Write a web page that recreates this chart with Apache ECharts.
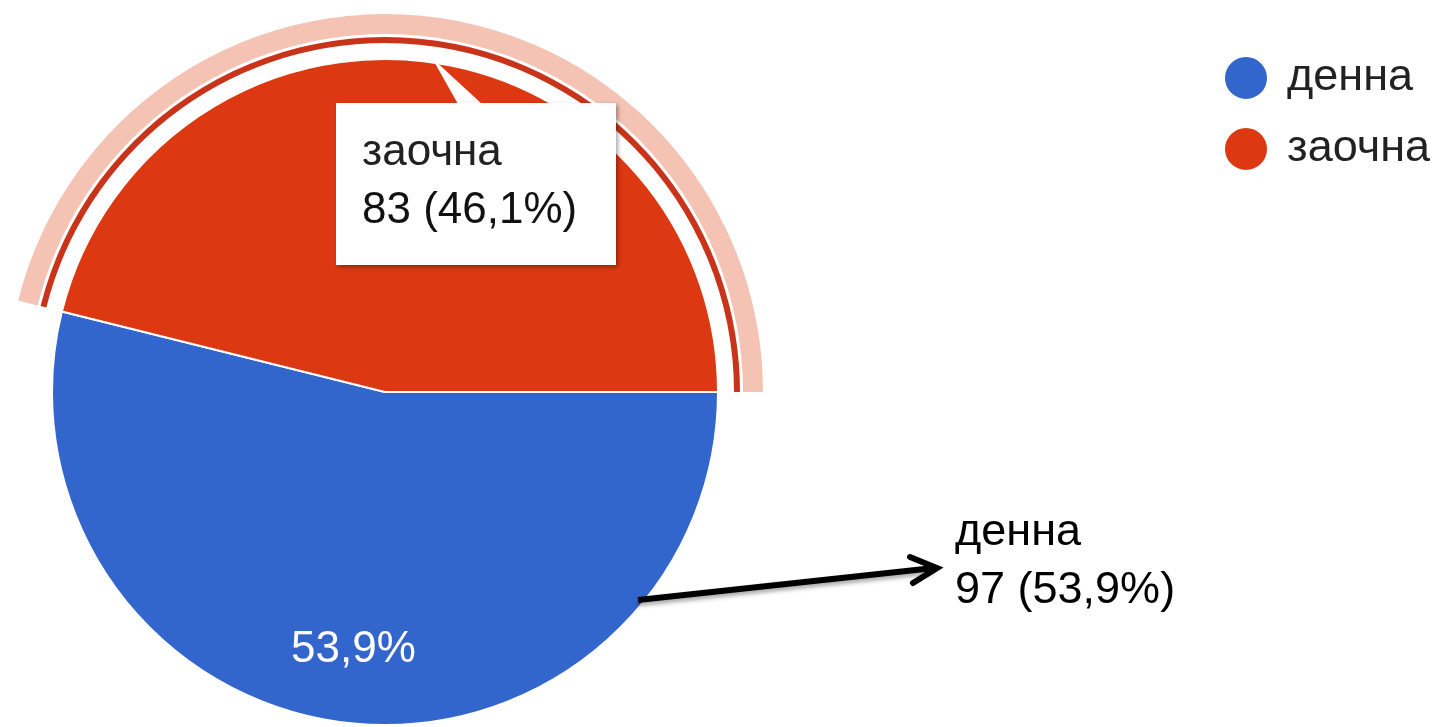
<!DOCTYPE html>
<html>
<head>
<meta charset="utf-8">
<script src="https://cdn.jsdelivr.net/npm/echarts@6/dist/echarts.min.js"></script>
<style>
html,body{margin:0;padding:0;background:#fff;}
#chart{width:1435px;height:727px;}
</style>
</head>
<body>
<div id="chart"></div>
<script>
var categories = ['денна', 'заочна'];
var values = [97, 83];
var colors = ['#3366cc', '#dc3912'];

var total = values.reduce(function (a, b) { return a + b; }, 0);
function pct(v) { return (v / total * 100).toFixed(1).replace('.', ',') + '%'; }

var FONT = '"Liberation Sans", Arial, sans-serif';
var center = [385, 392];

var mainData = categories.map(function (c, i) {
  return { name: c, value: values[i], itemStyle: { color: colors[i] } };
});
function ringData(col) {
  return categories.map(function (c, i) {
    return { name: c, value: values[i], itemStyle: { color: i === 1 ? col : 'rgba(0,0,0,0)' } };
  });
}

var chart = echarts.init(document.getElementById('chart'), null, { renderer: 'canvas' });
chart.setOption({
  animation: false,
  backgroundColor: '#ffffff',
  legend: {
    orient: 'vertical',
    left: 1223,
    top: 55,
    padding: 0,
    icon: 'circle',
    itemWidth: 44,
    itemHeight: 44,
    itemGap: 25,
    data: categories,
    selectedMode: false,
    textStyle: { fontFamily: FONT, fontSize: 45, color: '#222222', padding: [0, 0, 0, 14] }
  },
  series: [
    {
      type: 'pie',
      name: 'main',
      center: center,
      radius: [0, 333],
      startAngle: 0,
      clockwise: true,
      silent: true,
      avoidLabelOverlap: false,
      label: { show: false },
      labelLine: { show: false },
      itemStyle: { borderColor: '#ffffff', borderWidth: 2 },
      emphasis: { disabled: true },
      data: mainData
    },
    {
      type: 'pie',
      name: 'ring',
      center: center,
      radius: [349, 355],
      startAngle: 0,
      clockwise: true,
      silent: true,
      label: { show: false },
      labelLine: { show: false },
      emphasis: { disabled: true },
      data: ringData('#c9331a')
    },
    {
      type: 'pie',
      name: 'halo',
      center: center,
      radius: [358, 378],
      startAngle: 0,
      clockwise: true,
      silent: true,
      label: { show: false },
      labelLine: { show: false },
      emphasis: { disabled: true },
      data: ringData('#f4c3b4')
    },
    {
      type: 'pie',
      name: 'labels',
      center: center,
      radius: [180, 333],
      startAngle: 0,
      clockwise: true,
      silent: true,
      emphasis: { disabled: true },
      labelLine: { show: false },
      label: {
        show: true,
        position: 'inside',
        fontFamily: FONT,
        fontSize: 44,
        color: '#ffffff',
        formatter: function (p) { return p.dataIndex === 0 ? pct(p.value) : ''; }
      },
      data: ringData('rgba(0,0,0,0)').map(function (d) { d.itemStyle.color = 'rgba(0,0,0,0)'; return d; })
    }
  ],
  graphic: [
    {
      type: 'polygon',
      shape: { points: [[432, 58], [458, 104], [482, 104]] },
      style: { fill: '#ffffff' },
      z: 10
    },
    {
      type: 'rect',
      shape: { x: 336, y: 103, width: 280, height: 162 },
      style: { fill: '#ffffff', shadowBlur: 4, shadowColor: 'rgba(0,0,0,0.35)', shadowOffsetX: 2, shadowOffsetY: 2 },
      z: 10
    },
    {
      type: 'text',
      style: { text: categories[1], x: 362, y: 153, font: '44px ' + FONT, fill: '#222222', verticalAlign: 'middle' },
      z: 11
    },
    {
      type: 'text',
      style: { text: values[1] + ' (' + pct(values[1]) + ')', x: 362, y: 211, font: '44px ' + FONT, fill: '#111111', verticalAlign: 'middle' },
      z: 11
    },
    {
      type: 'text',
      style: { text: categories[0], x: 955, y: 533, font: '45px ' + FONT, fill: '#000000', verticalAlign: 'middle' },
      z: 11
    },
    {
      type: 'text',
      style: { text: values[0] + ' (' + pct(values[0]) + ')', x: 955, y: 591, font: '45px ' + FONT, fill: '#000000', verticalAlign: 'middle' },
      z: 11
    },
    {
      type: 'line',
      shape: { x1: 638, y1: 600, x2: 934, y2: 568 },
      style: { stroke: '#000000', lineWidth: 6, shadowBlur: 4, shadowColor: 'rgba(0,0,0,0.35)', shadowOffsetY: 3 },
      z: 11
    },
    {
      type: 'polyline',
      shape: { points: [[910, 557], [937, 568], [913, 583]] },
      style: { stroke: '#000000', lineWidth: 6, fill: null, lineJoin: 'miter', lineCap: 'round' },
      z: 11
    }
  ]
});
</script>
</body>
</html>
